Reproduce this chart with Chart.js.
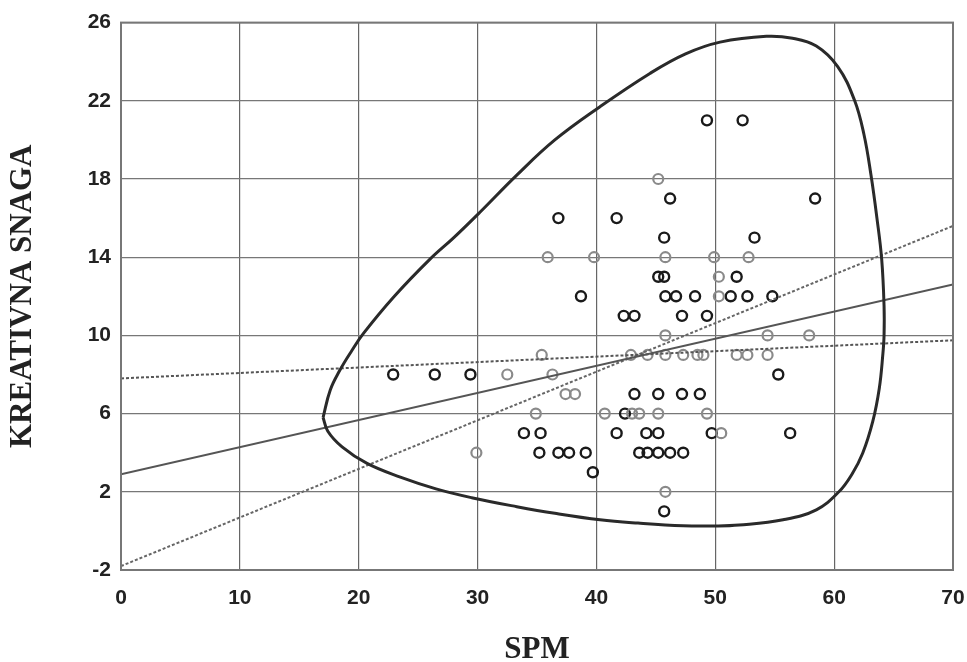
<!DOCTYPE html>
<html>
<head>
<meta charset="utf-8">
<script src="https://cdn.jsdelivr.net/npm/chart.js@4.4.0/dist/chart.umd.min.js"></script>
<style>
  html, body { margin: 0; padding: 0; background: #fff; }
  #wrap { width: 967px; height: 662px; }
</style>
</head>
<body>
<div id="wrap"><canvas id="chart"></canvas></div>
<script>
// axis ticks
const xTicks = [0, 10, 20, 30, 40, 50, 60, 70];
const yTicks = [-2, 2, 6, 10, 14, 18, 22, 26];

// dark circles (SPM, kreativna snaga)
const darkX = [49.3, 52.3, 46.2, 58.4, 36.8, 41.7, 45.7, 53.3, 45.2, 45.7, 51.8,
  38.7, 45.8, 46.7, 48.3, 51.3, 52.7, 54.8, 42.3, 43.2, 47.2, 49.3,
  22.9, 26.4, 29.4, 55.3, 43.2, 45.2, 47.2, 48.7, 42.4,
  33.9, 35.3, 41.7, 44.2, 45.2, 49.7, 56.3,
  35.2, 36.8, 37.7, 39.1, 43.6, 44.3, 45.2, 46.2, 47.3, 39.7, 45.7];
const darkY = [21, 21, 17, 17, 16, 16, 15, 15, 13, 13, 13,
  12, 12, 12, 12, 12, 12, 12, 11, 11, 11, 11,
  8, 8, 8, 8, 7, 7, 7, 7, 6,
  5, 5, 5, 5, 5, 5, 5,
  4, 4, 4, 4, 4, 4, 4, 4, 4, 3, 1];

// gray circles
const grayX = [45.2, 35.9, 39.8, 45.8, 49.9, 52.8, 50.3, 50.3, 45.8, 54.4, 57.9,
  35.4, 42.9, 44.3, 45.8, 47.3, 48.5, 49.0, 51.8, 52.7, 54.4,
  32.5, 36.3, 37.4, 38.2, 34.9, 40.7, 43.0, 43.6, 45.2, 49.3, 50.5, 29.9, 45.8];
const grayY = [18, 14, 14, 14, 14, 14, 13, 12, 10, 10, 10,
  9, 9, 9, 9, 9, 9, 9, 9, 9, 9,
  8, 8, 7, 7, 6, 6, 6, 6, 6, 6, 5, 4, 2];

// regression line and the two dotted slope lines
const lineX = [0, 70];
const regY = [2.9, 12.6];
const flatY = [7.8, 9.75];
const steepY = [-1.8, 15.6];

// outline of the ellipse, traced clockwise from the left tip
const ovalX = [17.0, 17.6, 18.4, 19.4, 20.4, 23.0, 26.0, 28.0, 30.2, 33.3, 36.5, 40.3, 44.5, 47.5,
  50.4, 54.3, 56.5, 58.5, 60.3, 61.7, 62.5, 63.1, 63.6, 64.0, 64.2, 64.2, 64.1, 63.8, 63.25,
  62.4, 61.5, 60.4, 58.5, 55.7, 52.0, 50.0, 47.3, 43.5, 40.3, 36.5, 33.3, 29.5, 26.5, 23.5,
  20.7, 18.6, 17.4, 17.0];
const ovalY = [5.8, 7.2, 8.2, 9.2, 10.1, 12.0, 13.9, 15.0, 16.3, 18.2, 20.0, 21.7, 23.4, 24.4,
  25.0, 25.3, 25.2, 24.8, 23.75, 22.05, 20.3, 18.2, 16.0, 13.9, 11.5, 10.0, 9.05, 7.3, 5.6,
  3.97, 2.9, 2.0, 1.08, 0.57, 0.3, 0.25, 0.26, 0.4, 0.57, 0.9, 1.24, 1.7, 2.15, 2.75,
  3.45, 4.3, 5.1, 5.8];

function pts(xs, ys) {
  return xs.map((x, i) => ({ x: x, y: ys[i] }));
}

// frame round the plot area
const frame = {
  id: 'frame',
  afterDraw(chart) {
    const a = chart.chartArea, ctx = chart.ctx;
    ctx.save();
    ctx.strokeStyle = '#777';
    ctx.lineWidth = 2;
    ctx.strokeRect(a.left, a.top, a.right - a.left, a.bottom - a.top);
    ctx.restore();
  }
};

const tickFont = { family: '"Liberation Sans", Arial, sans-serif', size: 21, weight: 'bold' };
const titleFont = { family: '"Liberation Serif", "Times New Roman", serif', size: 31, weight: 'bold', lineHeight: 1 };

new Chart(document.getElementById('chart'), {
  type: 'scatter',
  data: {
    datasets: [
      {
        data: pts(ovalX, ovalY), showLine: true, pointRadius: 0,
        borderColor: '#2a2a2a', borderWidth: 3, tension: 0.4
      },
      {
        data: pts(lineX, regY), showLine: true, pointRadius: 0,
        borderColor: '#555', borderWidth: 2
      },
      {
        data: pts(lineX, flatY), showLine: true, pointRadius: 0,
        borderColor: '#555', borderWidth: 2, borderDash: [3, 2]
      },
      {
        data: pts(lineX, steepY), showLine: true, pointRadius: 0,
        borderColor: '#666', borderWidth: 2, borderDash: [3, 2]
      },
      {
        data: pts(grayX, grayY), pointRadius: 5, pointBorderWidth: 2.2,
        pointBorderColor: '#8a8a8a', pointBackgroundColor: 'rgba(0,0,0,0)'
      },
      {
        data: pts(darkX, darkY), pointRadius: 5, pointBorderWidth: 2.4,
        pointBorderColor: '#1a1a1a', pointBackgroundColor: 'rgba(0,0,0,0)'
      }
    ]
  },
  options: {
    responsive: true,
    maintainAspectRatio: false,
    animation: false,
    layout: { padding: { top: 19, right: 14, left: 0, bottom: 0 } },
    plugins: { legend: { display: false }, tooltip: { enabled: false } },
    scales: {
      x: {
        type: 'linear', min: 0, max: 70,
        afterBuildTicks: (s) => { s.ticks = xTicks.map(v => ({ value: v })); },
        afterFit: (s) => { s.height = 92; s.paddingLeft = 0; s.paddingRight = 0; },
        ticks: { font: tickFont, color: '#222', padding: 16 },
        grid: { color: '#666', lineWidth: 1.2, borderDash: [1, 1], drawTicks: false },
        border: { display: false },
        title: { display: true, text: 'SPM', font: titleFont, color: '#222', padding: { top: 0, bottom: -3 } }
      },
      y: {
        type: 'linear', min: -2, max: 26,
        afterBuildTicks: (s) => { s.ticks = yTicks.map(v => ({ value: v })); },
        afterFit: (s) => { s.width = 121; },
        ticks: { font: tickFont, color: '#222', padding: 10 },
        grid: { color: '#777', lineWidth: 1.2, borderDash: [4, 1], drawTicks: false },
        border: { display: false },
        title: { display: true, text: 'KREATIVNA SNAGA', font: titleFont, color: '#222', padding: { top: 7, bottom: 0 } }
      }
    }
  },
  plugins: [frame]
});
</script>
</body>
</html>
